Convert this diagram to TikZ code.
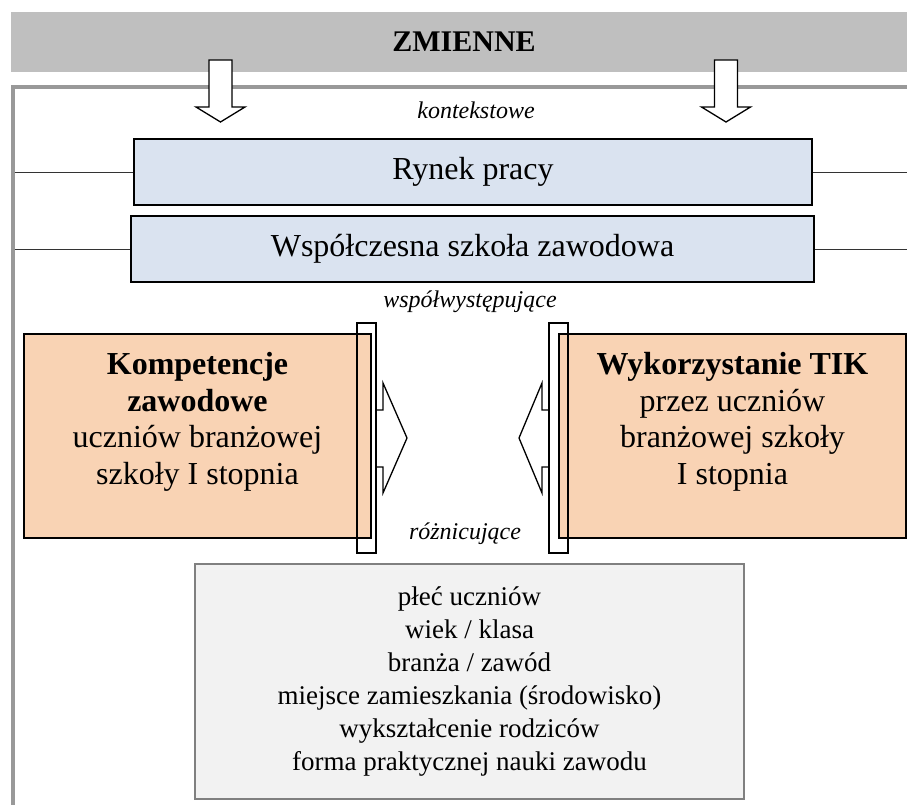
\documentclass[tikz,border=0pt]{standalone}
\usepackage{fontspec}
\setmainfont{Liberation Serif}
\usetikzlibrary{positioning}
\definecolor{headgray}{HTML}{BFBFBF}
\definecolor{framegray}{HTML}{999999}
\definecolor{ctxblue}{HTML}{DAE3F0}
\definecolor{mainpeach}{HTML}{F9D3B4}
\definecolor{varlight}{HTML}{F2F2F2}
\definecolor{varedge}{HTML}{808080}

\begin{document}
\begin{tikzpicture}[x=1pt,y=-1pt,
    big font/.style={font=\fontsize{32}{36.5}\selectfont},
    label font/.style={font=\fontsize{24}{28}\selectfont\itshape},
    context box/.style={draw,line width=1.3pt,fill=ctxblue,minimum height=66pt,
      inner sep=0pt,big font},
    main box/.style={draw,line width=1.3pt,fill=mainpeach,minimum width=347pt,
      minimum height=204pt},
    main text/.style={align=center,big font,yshift=14pt},
    bracket/.style={draw,line width=1.3pt},
    link/.style={draw=black!80,line width=0.9pt}]

    \useasboundingbox (0,0) rectangle (907,805);

    % Header
    \node[fill=headgray,minimum width=900pt,minimum height=60pt,inner sep=0pt,
      anchor=north west] (head) at (11,12) {};
    \node[font=\fontsize{30}{34}\selectfont\bfseries] (zmienne) at (464,42) {ZMIENNE};
    \draw[framegray,line width=3.5pt] (907,87) -| (13,805);

    % Down arrows
    \foreach \cx in {220.5,726}
      \draw[fill=white,line width=1.3pt] (\cx-11.5,60) -- (\cx+11.5,60) -- (\cx+11.5,107)
        -- (\cx+24.5,107) -- (\cx,122) -- (\cx-24.5,107) -- (\cx-11.5,107) -- cycle;

    \node[label font] (kont) at (476,110) {kontekstowe};

    % Context variables
    \node[context box,minimum width=678pt] (rynek) at (473,172) {Rynek pracy};
    \node[context box,minimum width=683pt] (szkola) at (472.5,249)
      {Współczesna szkoła zawodowa};
    \coordinate (rynekL) at (14.5,172);
    \coordinate (rynekR) at (907,172);
    \coordinate (szkolaL) at (14.5,249);
    \coordinate (szkolaR) at (907,249);
    \draw[link] (rynekL) -- (rynek.west);
    \draw[link] (rynek.east) -- (rynekR);
    \draw[link] (szkolaL) -- (szkola.west);
    \draw[link] (szkola.east) -- (szkolaR);

    \node[label font] (wspol) at (470,302) {współwystępujące};

    % Main variables
    \node[main box] (komp) at (197.5,436) {};
    \node[main text] (kompTxt) at (komp)
      {\textbf{Kompetencje}\\\textbf{zawodowe}\\uczniów branżowej\\szkoły I stopnia};
    \node[main box] (tik) at (732.5,436) {};
    \node[main text] (tikTxt) at (tik)
      {\textbf{Wykorzystanie TIK}\\przez uczniów\\branżowej szkoły\\I stopnia};

    % Brackets and arrows between
    \draw[bracket] (357,323) rectangle (376,553);
    \draw[bracket] (549,323) rectangle (568,553);
    \draw[bracket] (376,410) -- (383,410) -- (383,383) -- (407,438)
      -- (383,493) -- (383,467) -- (376,467);
    \draw[bracket] (549,410) -- (542,410) -- (542,383) -- (519,438)
      -- (542,493) -- (542,467) -- (549,467);

    \node[label font] (rozn) at (465,534) {różnicujące};

    % Differentiating variables
    \node[draw=varedge,line width=1.5pt,fill=varlight,minimum width=549pt,
      minimum height=235pt,align=center,font=\fontsize{27}{33}\selectfont]
      (zmn) at (469.5,681.5)
      {płeć uczniów\\wiek / klasa\\branża / zawód\\miejsce zamieszkania (środowisko)\\
       wykształcenie rodziców\\forma praktycznej nauki zawodu};
  \end{tikzpicture}
\end{document}
